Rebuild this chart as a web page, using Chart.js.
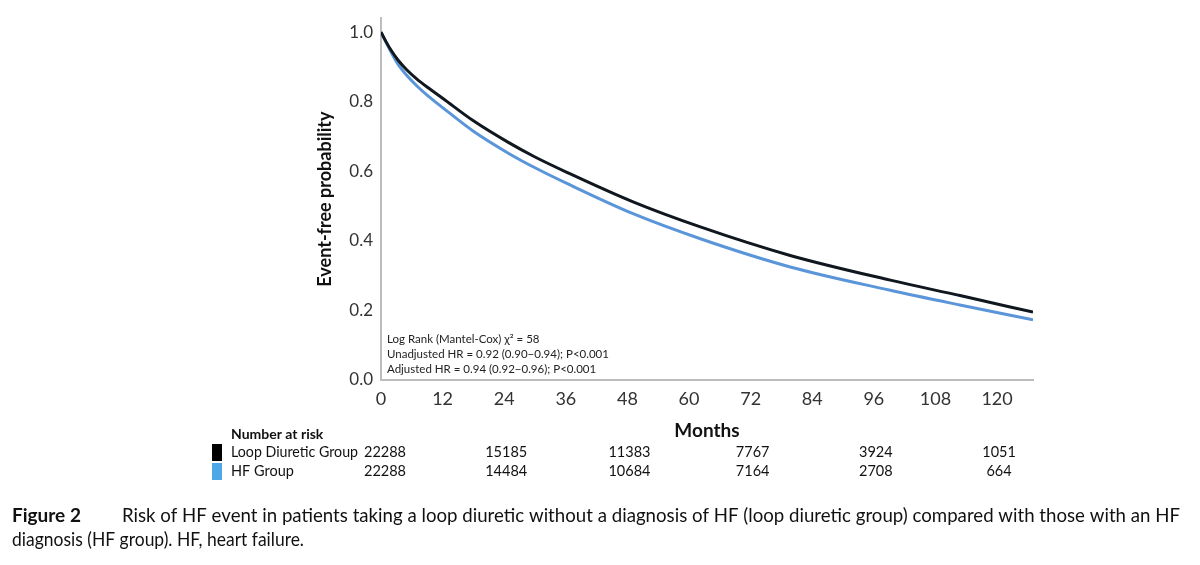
<!DOCTYPE html>
<html>
<head>
<meta charset="utf-8">
<script src="https://cdn.jsdelivr.net/npm/chart.js@4"></script>
<style>
  html, body { margin: 0; padding: 0; background: #ffffff; }
  #wrap { width: 1200px; height: 565px; position: relative; }
</style>
</head>
<body>
<div id="wrap"><canvas id="c" width="1200" height="565"></canvas></div>
<script>
// ---- Data ----
const months       = [0, 1, 2, 3.3, 5, 7, 9.2, 12, 18, 24.8, 30, 36.2, 49.1, 62.2, 79.7, 99.2, 113, 127];
const loopDiuretic = [1.0, 0.972, 0.947, 0.920, 0.892, 0.865, 0.840, 0.810, 0.745, 0.683, 0.641, 0.597, 0.512, 0.440, 0.358, 0.287, 0.242, 0.195];
const hfGroup      = [1.0, 0.970, 0.941, 0.908, 0.876, 0.845, 0.816, 0.783, 0.715, 0.652, 0.610, 0.565, 0.478, 0.406, 0.325, 0.258, 0.215, 0.173];
const xTickMonths  = [0, 12, 24, 36, 48, 60, 72, 84, 96, 108, 120];
const yTickValues  = [0.0, 0.2, 0.4, 0.6, 0.8, 1.0];
const riskMonths   = [0, 24, 48, 72, 96, 120];
const riskLoop     = [22288, 15185, 11383, 7767, 3924, 1051];
const riskHF       = [22288, 14484, 10684, 7164, 2708, 664];
const seriesNames  = ["Loop Diuretic Group", "HF Group"];
const annotationLines = [
  "Log Rank (Mantel-Cox) \u03C7\u00B2 = 58",
  "Unadjusted HR = 0.92 (0.90\u22120.94); P<0.001",
  "Adjusted HR = 0.94 (0.92\u22120.96); P<0.001"
];
const captionBold = "Figure 2";
const captionLine1 = "Risk of HF event in patients taking a loop diuretic without a diagnosis of HF (loop diuretic group) compared with those with an HF";
const captionLine2 = "diagnosis (HF group). HF, heart failure.";

const FONT = "Lato, 'Open Sans', 'DejaVu Sans', sans-serif";
const BLACK = "#10171f";
const BLUE = "#5b95d9";

const extrasPlugin = {
  id: 'extras',
  afterDraw(chart) {
    const ctx = chart.ctx;
    const xs = chart.scales.x;
    const area = chart.chartArea;
    ctx.save();
    // annotation in plot
    ctx.fillStyle = "#222";
    ctx.font = "11.5px " + FONT;
    ctx.textAlign = "left";
    ctx.textBaseline = "middle";
    annotationLines.forEach((t, i) => ctx.fillText(t, area.left + 6, 339 + i * 15));

    // number at risk table
    ctx.font = "bold 14px " + FONT;
    ctx.fillStyle = "#111";
    ctx.fillText("Number at risk", 231, 434);
    ctx.fillStyle = "#000000";
    ctx.fillRect(212, 444, 10, 17);
    ctx.fillStyle = "#4fa8e6";
    ctx.fillRect(212, 463, 10, 17);
    ctx.fillStyle = "#111";
    ctx.font = "14.5px " + FONT;
    ctx.fillText(seriesNames[0], 231, 452, 127);
    ctx.fillText(seriesNames[1], 231, 471);
    ctx.textAlign = "center";
    riskMonths.forEach((m, i) => {
      const px = xs.getPixelForValue(m) + (i === 0 ? 4 : 2);
      ctx.fillText(String(riskLoop[i]), px, 452);
      ctx.fillText(String(riskHF[i]), px, 471);
    });

    // caption
    ctx.textAlign = "left";
    ctx.fillStyle = "#111";
    ctx.font = "bold 19px " + FONT;
    ctx.fillText(captionBold, 12, 516, 88);
    ctx.font = "19px " + FONT;
    ctx.fillText(captionLine1, 122, 516, 1058);
    ctx.fillText(captionLine2, 12, 540, 292);
    ctx.restore();
  }
};

new Chart(document.getElementById('c'), {
  type: 'line',
  data: {
    datasets: [
      {
        label: seriesNames[0],
        data: months.map((m, i) => ({ x: m, y: loopDiuretic[i] })),
        borderColor: BLACK,
        borderWidth: 3,
        pointRadius: 0,
        cubicInterpolationMode: 'monotone',
        fill: false,
        order: 1
      },
      {
        label: seriesNames[1],
        data: months.map((m, i) => ({ x: m, y: hfGroup[i] })),
        borderColor: BLUE,
        borderWidth: 3,
        pointRadius: 0,
        cubicInterpolationMode: 'monotone',
        fill: false,
        order: 2
      }
    ]
  },
  options: {
    responsive: false,
    animation: false,
    devicePixelRatio: 1,
    layout: { padding: { left: 310, right: 167, top: 16, bottom: 123 } },
    plugins: { legend: { display: false }, tooltip: { enabled: false } },
    scales: {
      x: {
        type: 'linear',
        min: 0,
        max: 127,
        afterBuildTicks: s => { s.ticks = xTickMonths.map(v => ({ value: v })); },
        afterFit: s => { s.height = 62; },
        grid: { display: false, drawTicks: false },
        border: { display: true, color: '#bdbdbd', width: 2 },
        ticks: { color: '#333', font: { family: FONT, size: 18 }, padding: 8, maxRotation: 0, autoSkip: false },
        title: { display: true, text: 'Months', color: '#111', font: { family: FONT, size: 19, weight: 'bold' }, padding: { top: 0, bottom: 0 } }
      },
      y: {
        type: 'linear',
        min: 0,
        max: 1.04,
        afterBuildTicks: s => { s.ticks = yTickValues.map(v => ({ value: v })); },
        afterFit: s => { s.width = 71; },
        grid: { display: false, drawTicks: false },
        border: { display: true, color: '#bdbdbd', width: 2 },
        ticks: { color: '#333', font: { family: FONT, size: 17 }, padding: 8, callback: v => Number(v).toFixed(1) },
        title: { display: true, text: 'Event-free probability', color: '#111', font: { family: FONT, size: 18, weight: 'bold' }, padding: { top: 4, bottom: 4 } }
      }
    }
  },
  plugins: [extrasPlugin]
});
</script>
</body>
</html>
